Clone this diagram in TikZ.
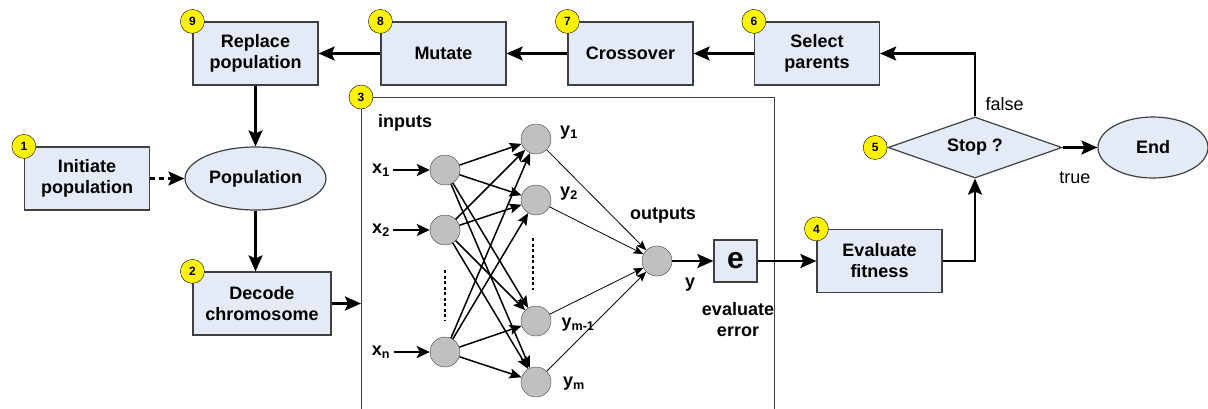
\documentclass[tikz,border=0pt]{standalone}
\usepackage{fontspec}
\setmainfont{Liberation Sans}
\usetikzlibrary{arrows.meta,shapes.geometric}
\definecolor{boxfill}{RGB}{228,235,247}
\definecolor{cellgray}{RGB}{192,192,192}

\begin{document}
\begin{tikzpicture}
  [x=1pt,y=-1pt,>={Stealth[length=16pt,width=14pt,inset=3pt]},
   every node/.style={font=\fontsize{18}{21}\selectfont\bfseries,align=center}]

  \tikzstyle{stage} = [draw=black!75,line width=1.2,fill=boxfill,minimum width=125,minimum height=63]
  \tikzstyle{badge} = [draw,circle,fill=yellow,inner sep=0,minimum size=24,font=\fontsize{12}{12}\selectfont\bfseries]
  \tikzstyle{cell} = [draw=black!75,circle,fill=cellgray,minimum size=30,inner sep=0]
  \tikzstyle{flow} = [->,line width=2.5]
  \tikzstyle{link} = [-{Stealth[length=12pt,width=10pt,inset=2pt]},line width=1.5]
  \tikzstyle{wire} = [-{Stealth[length=10pt,width=8pt,inset=2pt]},line width=0.8]
  \tikzstyle{plain} = [font=\fontsize{18}{21}\selectfont]

  \useasboundingbox (0,0) rectangle (1208,408);

  % flow chart
  \node[stage] (1) at (87,178.5) {Initiate\\population};
  \node[stage,ellipse] (pop) at (255.5,178.5) {Population};
  \node[stage,minimum width=138] (2) at (262,303.5) {Decode\\chromosome};
  \node[stage] (9) at (255.5,53.5) {Replace\\population};
  \node[stage] (8) at (443.5,53.5) {Mutate};
  \node[stage] (7) at (630.5,53.5) {Crossover};
  \node[stage] (6) at (817,53.5) {Select\\parents};
  \node[stage] (4) at (879.5,261) {Evaluate\\fitness};
  \node[stage,diamond,aspect=2.9,inner sep=0,minimum width=174,minimum height=61] (5) at (975,147.5) {Stop ?};
  \node[stage,ellipse,minimum width=110,minimum height=61] (end) at (1153,147.5) {End};
  \node[draw=black!75,line width=1,minimum width=413,minimum height=400,anchor=north west] (nn) at (361,97) {};

  % numbers
  \node[badge] (b1) at (1.north west) {1};
  \node[badge] (b2) at (2.north west) {2};
  \node[badge] (b3) at (nn.north west) {3};
  \node[badge] (b4) at (4.north west) {4};
  \node[badge,anchor=east] (b5) at (5.west) {5};
  \node[badge] (b6) at (6.north west) {6};
  \node[badge] (b7) at (7.north west) {7};
  \node[badge] (b8) at (8.north west) {8};
  \node[badge] (b9) at (9.north west) {9};

  % network
  \node (inputs) at (405,123) {inputs};
  \node (outputs) at (663,215) {outputs};
  \node[cell] (x1) at (445,170) {};
  \node[cell] (x2) at (445,230) {};
  \node[cell] (xn) at (445,352) {};
  \node[cell] (y1) at (536,139) {};
  \node[cell] (y2) at (536,200) {};
  \node[cell] (ym1) at (536,321) {};
  \node[cell] (ym) at (536,382) {};
  \node[cell] (o) at (657,261) {};
  \node[stage,minimum width=43,minimum height=42,inner sep=0,font=\fontsize{30}{30}\selectfont\bfseries] (e) at (735.5,261) {e};

  \node (lx1) at (381,170) {x\textsubscript{1}};
  \node (lx2) at (381,230) {x\textsubscript{2}};
  \node (lxn) at (381,352) {x\textsubscript{n}};
  \node (ly1) at (569,133) {y\textsubscript{1}};
  \node (ly2) at (569,194) {y\textsubscript{2}};
  \node (lym1) at (578,325) {y\textsubscript{m-1}};
  \node (lym) at (574,384) {y\textsubscript{m}};
  \node (ly) at (690,285) {y};
  \node (err) at (738,320) {evaluate\\error};

  \draw[line width=2,dash pattern=on 3pt off 2.5pt] (445,270) -- (445,320);
  \draw[line width=2,dash pattern=on 3pt off 2.5pt] (533,238) -- (533,290);

  \path[flow,-{Stealth[length=13pt,width=12pt,inset=3pt]}]
        (lx1) edge (x1)
        (lx2) edge (x2)
        (lxn) edge (xn);

  \foreach \i in {x1,x2,xn}
    \foreach \j in {y1,y2,ym1,ym}
      \draw[link] (\i) -- (\j);

  \foreach \j in {y1,y2,ym1,ym}
    \draw[wire] (\j) -- (o);

  % connections
  \path[flow]
        (6) edge (7)
        (7) edge (8)
        (8) edge (9)
        (9) edge (pop)
        (pop.south) edge (pop.south |- 2.north)
        (2) edge (2 -| nn.west)
        (o) edge (e)
        (e) edge (4)
        (5) edge node[plain,pos=0.35,below=20pt] {true} (end);
  \draw[flow,dashed,dash pattern=on 5pt off 4pt] (1) -- (pop);
  \draw[flow] (4.east) -| (5.south);
  \draw[flow] (5.north) |- node[plain,pos=0.1,right=6pt] {false} (6.east);
\end{tikzpicture}
\end{document}
